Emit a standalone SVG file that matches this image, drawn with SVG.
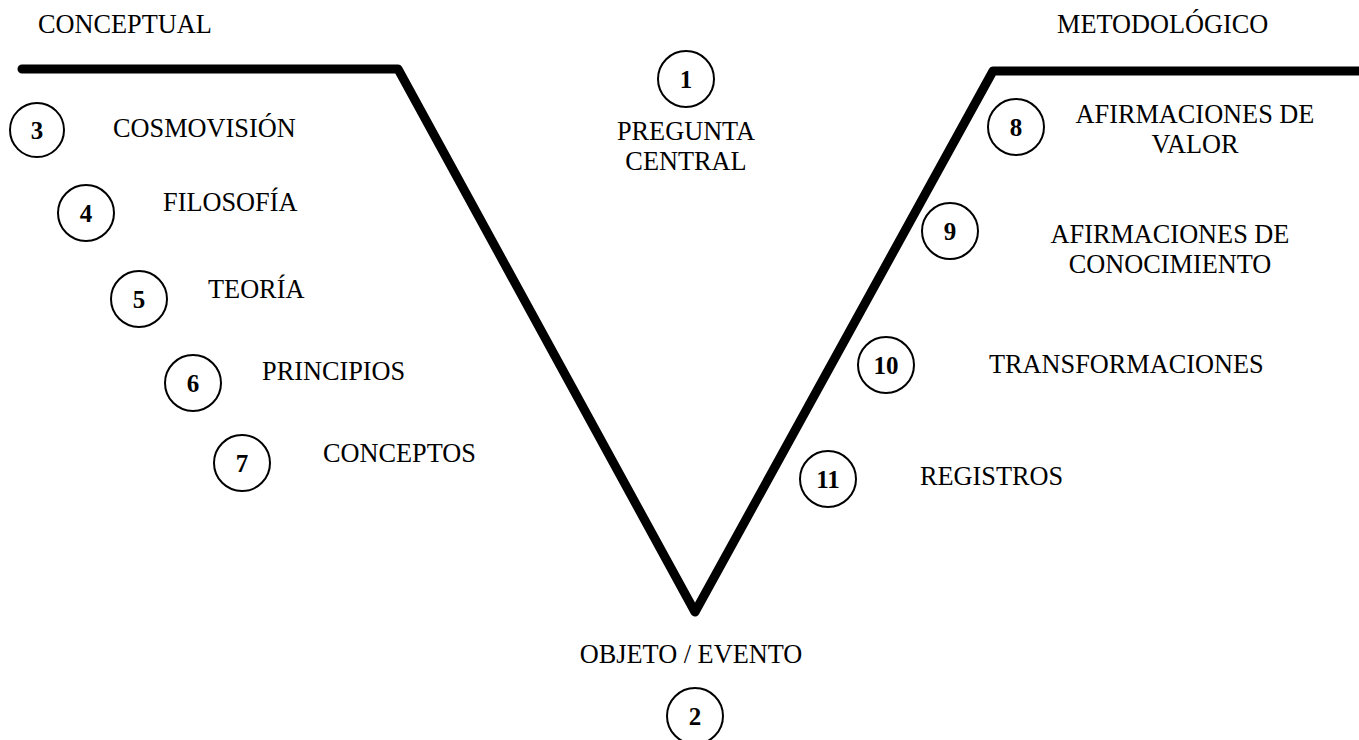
<svg xmlns="http://www.w3.org/2000/svg" width="1359" height="740" viewBox="0 0 1359 740">
<style>
.t{font-family:"Liberation Serif","Times New Roman",serif;font-size:26.3px;fill:#000}
.n{font-family:"Liberation Serif","Times New Roman",serif;font-size:25px;font-weight:bold;fill:#000;text-anchor:middle}
.c{fill:#fff;stroke:#000;stroke-width:2}
.m{text-anchor:middle}
</style>
<rect width="1359" height="740" fill="#fff"/>
<g id="connectors">
<polyline points="22,69 398,69 695,612 993,71 1359,71" fill="none" stroke="#000" stroke-width="9" stroke-linejoin="round" stroke-linecap="round"/>
</g>
<g id="label-conceptual"><text class="t" x="38" y="33">CONCEPTUAL</text></g>
<g id="label-metodologico"><text class="t" x="1057" y="33">METODOLÓGICO</text></g>
<g id="node-1"><circle class="c" cx="686" cy="79" r="28"/><text class="n" x="686" y="88">1</text><text class="t m" x="686" y="140">PREGUNTA</text><text class="t m" x="686" y="170">CENTRAL</text></g>
<g id="node-2"><text class="t m" x="691" y="663">OBJETO / EVENTO</text><circle class="c" cx="695" cy="716" r="28"/><text class="n" x="695" y="725">2</text></g>
<g id="node-3"><circle class="c" cx="37" cy="130" r="27"/><text class="n" x="37" y="139">3</text><text class="t" x="113" y="137">COSMOVISIÓN</text></g>
<g id="node-4"><circle class="c" cx="86" cy="213" r="28"/><text class="n" x="86" y="222">4</text><text class="t" x="163" y="211">FILOSOFÍA</text></g>
<g id="node-5"><circle class="c" cx="139" cy="299" r="28"/><text class="n" x="139" y="308">5</text><text class="t" x="208" y="298">TEORÍA</text></g>
<g id="node-6"><circle class="c" cx="193" cy="383" r="28"/><text class="n" x="193" y="392">6</text><text class="t" x="262" y="380">PRINCIPIOS</text></g>
<g id="node-7"><circle class="c" cx="242" cy="463" r="28"/><text class="n" x="242" y="472">7</text><text class="t" x="323" y="462">CONCEPTOS</text></g>
<g id="node-8"><circle class="c" cx="1016" cy="127" r="28"/><text class="n" x="1016" y="136">8</text><text class="t m" x="1195" y="123">AFIRMACIONES DE</text><text class="t m" x="1195" y="153">VALOR</text></g>
<g id="node-9"><circle class="c" cx="950" cy="231" r="28"/><text class="n" x="950" y="240">9</text><text class="t m" x="1170" y="243">AFIRMACIONES DE</text><text class="t m" x="1170" y="273">CONOCIMIENTO</text></g>
<g id="node-10"><circle class="c" cx="886" cy="365" r="28"/><text class="n" x="886" y="374">10</text><text class="t" x="989" y="373">TRANSFORMACIONES</text></g>
<g id="node-11"><circle class="c" cx="828" cy="479" r="28"/><text class="n" x="828" y="488">11</text><text class="t" x="920" y="485">REGISTROS</text></g>
</svg>
